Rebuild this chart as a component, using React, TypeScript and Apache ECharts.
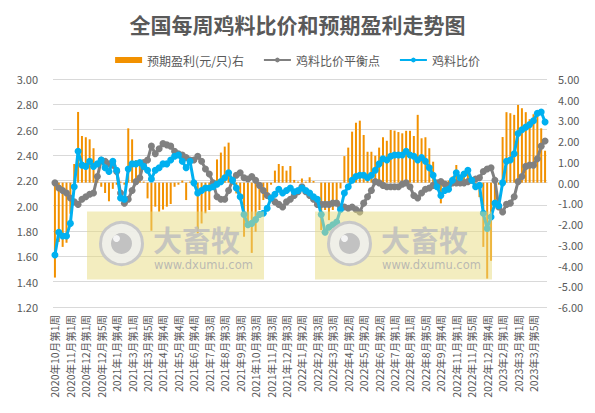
import React, { useEffect, useRef } from "react";
import * as echarts from "echarts";

const categories = [
  "2020年10月第1周", "2020年10月第2周", "2020年10月第3周", "2020年10月第4周",
  "2020年11月第1周", "2020年11月第2周", "2020年11月第3周", "2020年11月第4周",
  "2020年12月第1周", "2020年12月第2周", "2020年12月第3周", "2020年12月第4周",
  "2020年12月第5周", "2021年1月第1周", "2021年1月第2周", "2021年1月第3周",
  "2021年1月第4周", "2021年2月第1周", "2021年2月第3周", "2021年2月第4周",
  "2021年3月第1周", "2021年3月第2周", "2021年3月第3周", "2021年3月第4周",
  "2021年3月第5周", "2021年4月第1周", "2021年4月第2周", "2021年4月第3周",
  "2021年4月第4周", "2021年5月第1周", "2021年5月第2周", "2021年5月第3周",
  "2021年5月第4周", "2021年6月第1周", "2021年6月第2周", "2021年6月第3周",
  "2021年6月第4周", "2021年6月第5周", "2021年7月第1周", "2021年7月第2周",
  "2021年7月第3周", "2021年7月第4周", "2021年8月第1周", "2021年8月第2周",
  "2021年8月第3周", "2021年8月第4周", "2021年9月第1周", "2021年9月第2周",
  "2021年9月第3周", "2021年9月第4周", "2021年10月第1周", "2021年10月第2周",
  "2021年10月第3周", "2021年10月第4周", "2021年11月第1周", "2021年11月第2周",
  "2021年11月第3周", "2021年11月第4周", "2021年12月第1周", "2021年12月第2周",
  "2021年12月第3周", "2021年12月第4周", "2021年12月第5周", "2022年1月第1周",
  "2022年1月第2周", "2022年1月第3周", "2022年1月第4周", "2022年2月第2周",
  "2022年2月第3周", "2022年2月第4周", "2022年3月第1周", "2022年3月第2周",
  "2022年3月第3周", "2022年3月第4周", "2022年3月第5周", "2022年4月第1周",
  "2022年4月第2周", "2022年4月第3周", "2022年4月第4周", "2022年5月第1周",
  "2022年5月第2周", "2022年5月第3周", "2022年5月第4周", "2022年6月第1周",
  "2022年6月第2周", "2022年6月第3周", "2022年6月第4周", "2022年6月第5周",
  "2022年7月第1周", "2022年7月第2周", "2022年7月第3周", "2022年7月第4周",
  "2022年8月第1周", "2022年8月第2周", "2022年8月第3周", "2022年8月第4周",
  "2022年8月第5周", "2022年9月第1周", "2022年9月第2周", "2022年9月第3周",
  "2022年9月第4周", "2022年10月第2周", "2022年10月第3周", "2022年10月第4周",
  "2022年11月第1周", "2022年11月第2周", "2022年11月第3周", "2022年11月第4周",
  "2022年11月第5周", "2022年12月第1周", "2022年12月第2周", "2022年12月第3周",
  "2022年12月第4周", "2022年12月第5周", "2023年1月第1周", "2023年1月第2周",
  "2023年2月第1周", "2023年2月第2周", "2023年2月第3周", "2023年2月第4周",
  "2023年3月第1周", "2023年3月第2周", "2023年3月第3周", "2023年3月第4周",
  "2023年3月第5周", "2023年4月第1周", "2023年4月第2周", "2023年4月第3周",
];

// 预期盈利(元/只) — right axis
const profit = [
  -4.58, -2.86, -3.10, -2.90, -1.50, 0.90, 3.41, 2.25, 2.19, 2.09,
  1.66, 0.30, -0.20, -0.50, -0.90, -0.30, -0.10, 0.05, -0.10, 2.62,
  2.09, 1.09, 1.00, 0.05, -0.76, -2.32, -1.16, -1.40, -1.30, -1.16,
  -1.03, -0.20, -0.10, 0.10, -0.84, 0.05, -0.10, -2.45, -1.97, -1.48,
  -1.32, 0.00, 1.12, 1.45, 1.74, 1.93, -0.10, -0.52, -0.84, -2.61,
  -2.13, -3.39, -2.37, -1.32, -0.84, -0.60, -0.10, 0.58, 0.90, 0.80,
  0.58, 0.80, 0.13, 0.05, 0.20, 0.05, 0.26, 0.08, 0.00, -2.29,
  -1.32, -1.81, -1.32, -0.84, -0.28, 1.28, 1.69, 2.46, 2.89, 2.99,
  2.30, 1.49, 1.49, 1.30, 1.69, 2.19, 2.02, 2.54, 2.51, 2.44,
  2.38, 2.50, 2.50, 2.25, 3.27, 2.14, 2.19, 1.66, 1.01, 0.10,
  -1.00, -0.35, 0.10, 0.30, 0.85, 0.37, 0.45, 0.69, 0.10, -0.35,
  -0.70, -3.10, -4.63, -3.77, -0.84, -0.10, 2.20, 3.40, 3.35, 3.27,
  3.75, 3.59, 3.40, 3.06, 3.30, 3.40, 2.62, 1.54,
];

// 鸡料比价平衡点 — left axis
const breakEven = [
  2.18, 2.14, 2.12, 2.10, 2.06, 2.03, 2.01, 2.05, 2.07, 2.09,
  2.10, 2.23, 2.36, 2.35, 2.33, 2.32, 2.27, 2.10, 2.02, 2.05,
  2.12, 2.19, 2.22, 2.34, 2.36, 2.47, 2.41, 2.45, 2.49, 2.48,
  2.47, 2.43, 2.41, 2.40, 2.38, 2.36, 2.36, 2.39, 2.35, 2.29,
  2.25, 2.18, 2.07, 2.05, 2.05, 2.12, 2.20, 2.24, 2.26, 2.22,
  2.21, 2.23, 2.20, 2.16, 2.12, 2.08, 2.06, 2.03, 2.01, 1.99,
  2.03, 2.05, 2.08, 2.11, 2.15, 2.11, 2.08, 2.05, 2.01, 2.01,
  2.01, 2.01, 2.02, 2.02, 1.99, 1.99, 1.98, 1.99, 1.97, 1.95,
  2.02, 2.07, 2.12, 2.19, 2.18, 2.16, 2.15, 2.15, 2.15, 2.15,
  2.17, 2.18, 2.15, 2.08, 2.06, 2.10, 2.13, 2.14, 2.16, 2.18,
  2.19, 2.17, 2.16, 2.18, 2.18, 2.18, 2.18, 2.19, 2.20, 2.21,
  2.22, 2.27, 2.29, 2.30, 2.20, 1.99, 1.95, 2.01, 2.02, 2.07,
  2.19, 2.23, 2.31, 2.32, 2.32, 2.37, 2.47, 2.51,
];

// 鸡料比价 — left axis
const ratio = [
  1.61, 1.79, 1.76, 1.76, 1.86, 2.15, 2.43, 2.32, 2.31, 2.35,
  2.31, 2.33, 2.36, 2.30, 2.27, 2.35, 2.28, 2.06, 2.05, 2.29,
  2.33, 2.33, 2.34, 2.31, 2.28, 2.21, 2.28, 2.30, 2.33, 2.33,
  2.36, 2.39, 2.40, 2.35, 2.30, 2.35, 2.18, 2.10, 2.12, 2.14,
  2.14, 2.15, 2.17, 2.19, 2.22, 2.26, 2.20, 2.14, 2.07, 1.93,
  1.85, 1.86, 1.89, 1.93, 1.94, 1.98, 2.06, 2.09, 2.13, 2.10,
  2.12, 2.14, 2.11, 2.12, 2.14, 2.12, 2.10, 2.07, 2.05, 1.93,
  1.79, 1.83, 1.85, 1.87, 1.97, 2.10, 2.15, 2.20, 2.23, 2.24,
  2.24, 2.22, 2.24, 2.28, 2.33, 2.37, 2.36, 2.39, 2.40, 2.40,
  2.40, 2.43, 2.40, 2.39, 2.36, 2.38, 2.35, 2.30, 2.24, 2.15,
  2.08, 2.12, 2.13, 2.20, 2.26, 2.22, 2.25, 2.28, 2.20, 2.15,
  2.16, 1.94, 1.82, 1.91, 2.02, 2.00, 2.18, 2.35, 2.36, 2.41,
  2.57, 2.60, 2.62, 2.64, 2.67, 2.73, 2.74, 2.66,
];

const seriesNames = ["预期盈利(元/只)右", "鸡料比价平衡点", "鸡料比价"];
const titleText = "全国每周鸡料比价和预期盈利走势图";

const FONT = "'Noto Sans CJK SC', 'Noto Sans', sans-serif";
const TEXT_COLOR = "#595959";
const GRID_COLOR = "#d9d9d9";

function watermark(x0: number, y0: number) {
  return {
    type: "group",
    x: x0,
    y: y0,
    silent: true,
    z: 100,
    children: [
      {
        type: "rect",
        shape: { x: 0, y: 0, width: 177, height: 68 },
        style: { fill: "rgba(232,220,128,0.5)", blend: "multiply" },
        z: 100,
      },
      {
        type: "circle",
        shape: { cx: 34.5, cy: 32, r: 21 },
        style: { fill: "rgba(238,238,236,0.9)", stroke: "#c8c8c8", lineWidth: 3 },
        z: 101,
      },
      {
        type: "circle",
        shape: { cx: 34.5, cy: 32, r: 10.5 },
        style: { fill: "#c2c2c2" },
        z: 102,
      },
      {
        type: "circle",
        shape: { cx: 29.5, cy: 27, r: 3.5 },
        style: { fill: "#f4f4f4" },
        z: 103,
      },
      {
        type: "text",
        x: 66,
        y: 27,
        style: {
          text: "大畜牧",
          fontSize: 29,
          lineHeight: 29,
          fontWeight: "bold",
          fontFamily: FONT,
          fill: "rgba(190,190,190,0.85)",
          verticalAlign: "middle",
        },
        z: 102,
      },
      {
        type: "text",
        x: 67,
        y: 53.5,
        style: {
          text: "www.dxumu.com",
          fontSize: 11.5,
          lineHeight: 11.5,
          fontFamily: "'DejaVu Sans', sans-serif",
          fill: "rgba(175,175,175,0.85)",
          verticalAlign: "middle",
        },
        z: 102,
      },
    ],
  };
}

export default function App() {
  const ref = useRef<HTMLDivElement>(null);

  useEffect(() => {
    if (!ref.current) return;
    const chart = echarts.init(ref.current, null, { renderer: "svg" });
    const fmt = (v: number) => v.toFixed(2);
    chart.setOption({
      animation: false,
      backgroundColor: "#ffffff",
      textStyle: { fontFamily: FONT },
      title: {
        text: titleText,
        left: "center",
        top: 8,
        textStyle: { fontSize: 21, fontWeight: "bold", color: TEXT_COLOR, fontFamily: FONT },
      },
      legend: {
        top: 49,
        left: "center",
        itemGap: 19,
        itemWidth: 27,
        itemHeight: 6,
        textStyle: { fontSize: 12, color: TEXT_COLOR, fontFamily: FONT },
        data: [
          { name: seriesNames[0], icon: "rect" },
          { name: seriesNames[1] },
          { name: seriesNames[2] },
        ],
      },
      grid: { left: 53, right: 48, top: 79, bottom: 106, containLabel: false },
      xAxis: {
        type: "category",
        data: categories,
        boundaryGap: true,
        axisLine: { lineStyle: { color: GRID_COLOR } },
        axisTick: { show: false },
        axisLabel: {
          interval: 3,
          rotate: 90,
          fontSize: 10.5,
          color: TEXT_COLOR,
          margin: 8,
          fontFamily: FONT,
        },
      },
      yAxis: [
        {
          type: "value",
          min: 1.2,
          max: 3.0,
          interval: 0.2,
          axisLine: { show: false },
          axisTick: { show: false },
          splitLine: { lineStyle: { color: GRID_COLOR, width: 1 } },
          axisLabel: { formatter: fmt, fontSize: 11, color: TEXT_COLOR, margin: 15, fontFamily: FONT },
        },
        {
          type: "value",
          min: -6,
          max: 5,
          interval: 1,
          axisLine: { show: false },
          axisTick: { show: false },
          splitLine: { show: false },
          axisLabel: { formatter: fmt, fontSize: 11, color: TEXT_COLOR, margin: 11, fontFamily: FONT },
        },
      ],
      series: [
        {
          name: seriesNames[0],
          type: "bar",
          yAxisIndex: 1,
          data: profit,
          barWidth: 2,
          itemStyle: { color: "#f29100" },
          z: 2,
        },
        {
          name: seriesNames[1],
          type: "line",
          yAxisIndex: 0,
          data: breakEven,
          symbol: "circle",
          symbolSize: 7,
          showAllSymbol: true,
          lineStyle: { color: "#808080", width: 3 },
          itemStyle: { color: "#808080" },
          z: 3,
        },
        {
          name: seriesNames[2],
          type: "line",
          yAxisIndex: 0,
          data: ratio,
          symbol: "circle",
          symbolSize: 7,
          showAllSymbol: true,
          lineStyle: { color: "#00b0f0", width: 3 },
          itemStyle: { color: "#00b0f0" },
          z: 4,
        },
      ],
      graphic: [watermark(87, 211.5), watermark(315, 211.5)],
    });
    return () => chart.dispose();
  }, []);

  return (
    <div
      ref={ref}
      style={{ position: "absolute", left: 0, top: 0, width: 595, height: 413 }}
    />
  );
}
